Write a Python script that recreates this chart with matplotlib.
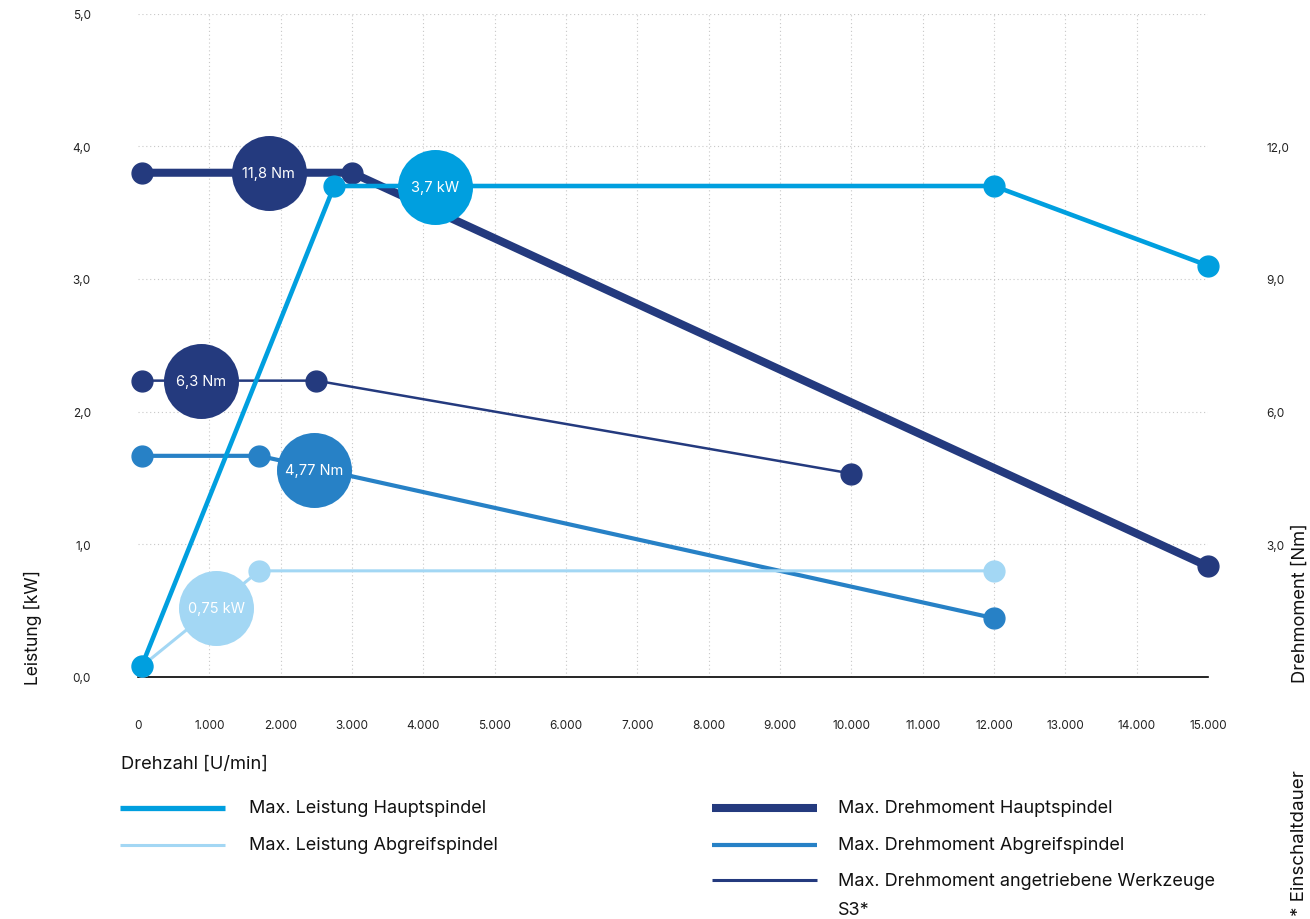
import matplotlib

matplotlib.use("Agg")
import matplotlib.pyplot as plt
from matplotlib.lines import Line2D
from matplotlib.ticker import FuncFormatter

plt.rcParams["font.family"] = ["Inter", "DejaVu Sans"]

# ---- data (speed in U/min, power in kW, torque in Nm) ----
speed_power_main = [50, 2750, 12000, 15000]
power_main = [0.08, 3.7, 3.7, 3.1]
speed_power_sub = [50, 1700, 12000]
power_sub = [0.08, 0.8, 0.8]

speed_torque_main = [50, 3000, 15000]
torque_main = [11.4, 11.4, 2.5]
speed_torque_sub = [50, 1700, 12000]
torque_sub = [5.0, 5.0, 1.33]
speed_torque_tools = [50, 2500, 10000]
torque_tools = [6.7, 6.7, 4.6]

# bubble labels sit on the curves
power_bubble_x = [4160, 1100]
power_bubble_y = [3.69, 0.52]
power_bubble_txt = ["3,7 kW", "0,75 kW"]
torque_bubble_x = [1830, 880, 2470]
torque_bubble_y = [11.4, 6.7, 4.68]
torque_bubble_txt = ["11,8 Nm", "6,3 Nm", "4,77 Nm"]

x_ticks = list(range(0, 15001, 1000))
power_ticks = [0, 1, 2, 3, 4, 5]
torque_ticks = [0, 3, 6, 9, 12, 15]

legend_labels = ["Max. Leistung Hauptspindel", "Max. Leistung Abgreifspindel",
                 "Max. Drehmoment Hauptspindel", "Max. Drehmoment Abgreifspindel",
                 "Max. Drehmoment angetriebene Werkzeuge\nS3*"]

BRIGHT = "#009fdf"
LIGHT = "#a3d7f4"
NAVY = "#243a7e"
MID = "#2781c6"
GRID = "#c8c8c8"
TXT = "#111111"

W, H = 1310, 920
fig = plt.figure(figsize=(W / 100, H / 100), dpi=100)
# torque on the lower axes, power twin on top (power curves are drawn over torque curves)
ax = fig.add_axes([138 / W, 1 - 678 / H, 1070 / W, 663.5 / H])
ax2 = ax.twinx()

ax.set_xlim(0, 15000)
ax.set_ylim(0, 15)
ax2.set_ylim(0, 5)

MS = 15
BUB = 54
ax.plot(speed_torque_main, torque_main, color=NAVY, lw=5.8, marker="o", ms=MS,
        clip_on=False, solid_capstyle="butt", zorder=3)
ax.plot(speed_torque_sub, torque_sub, color=MID, lw=3.0, marker="o", ms=MS,
        clip_on=False, zorder=3)
ax.plot(speed_torque_tools, torque_tools, color=NAVY, lw=1.8, marker="o", ms=MS,
        clip_on=False, zorder=3)
bub_cols = [NAVY, NAVY, MID]
for x, y, t, c in zip(torque_bubble_x, torque_bubble_y, torque_bubble_txt, bub_cols):
    ax.plot([x], [y], marker="o", ms=BUB, color=c, mec="none", zorder=5, clip_on=False)
    ax.text(x, y, t, color="white", ha="center", va="center", fontsize=10.5, zorder=6)

ax2.plot(speed_power_sub, power_sub, color=LIGHT, lw=2.2, marker="o", ms=MS,
         clip_on=False, zorder=3)
ax2.plot(speed_power_main, power_main, color=BRIGHT, lw=3.3, marker="o", ms=MS,
         clip_on=False, zorder=4)
for x, y, t, c in zip(power_bubble_x, power_bubble_y, power_bubble_txt, [BRIGHT, LIGHT]):
    ax2.plot([x], [y], marker="o", ms=BUB, color=c, mec="none", zorder=5, clip_on=False)
    ax2.text(x, y, t, color="white", ha="center", va="center", fontsize=10.5, zorder=6)

# ticks and labels
ax.set_xticks(x_ticks)
ax.xaxis.set_major_formatter(FuncFormatter(
    lambda v, p: "0" if v == 0 else f"{int(v):,}".replace(",", ".")))
ax.tick_params(axis="x", length=0, pad=30, labelsize=8.5, colors="#222222")

ax.yaxis.tick_right()
ax.set_yticks(torque_ticks)
ax.set_yticklabels(["" if v in (0, 15) else f"{v:.1f}".replace(".", ",") for v in torque_ticks])
ax.tick_params(axis="y", length=0, pad=42, labelsize=8.5, colors="#222222")

ax2.yaxis.tick_left()
ax2.set_yticks(power_ticks)
ax2.yaxis.set_major_formatter(FuncFormatter(lambda v, p: f"{v:.1f}".replace(".", ",")))
ax2.tick_params(axis="y", length=0, pad=34, labelsize=8.5, colors="#222222")

ax.grid(True, color=GRID, lw=0.8, linestyle=(0, (1, 2.5)))
ax.set_axisbelow(True)
xgl = ax.xaxis.get_gridlines()
xgl[0].set_visible(False)
xgl[-1].set_visible(False)

for a in (ax, ax2):
    for s in a.spines.values():
        s.set_visible(False)
ax.spines["bottom"].set_visible(True)
ax.spines["bottom"].set_linewidth(1.2)
ax.spines["bottom"].set_color("black")

# axis titles
fig.text(33 / W, 1 - 628 / H, "Leistung [kW]", rotation=90, ha="center", va="center",
         fontsize=12.6, color=TXT)
fig.text(1300 / W, 1 - 603 / H, "Drehmoment [Nm]", rotation=90, ha="center", va="center",
         fontsize=13.2, color=TXT)
fig.text(1300 / W, 1 - 843 / H, "* Einschaltdauer", rotation=90, ha="center", va="center",
         fontsize=13.5, color=TXT)
fig.text(121 / W, 1 - 764 / H, "Drehzahl [U/min]", ha="left", va="center",
         fontsize=13.2, color=TXT)

# legend drawn by hand (two columns)
leg_cols = [BRIGHT, LIGHT, NAVY, MID, NAVY]
leg_lw = [3.8, 2.2, 5.8, 3.0, 2.2]
leg_x = [(120, 225, 249), (120, 225, 249), (712, 817, 838), (712, 817, 838), (712, 817, 838)]
leg_line_y = [809, 846, 809, 846, 881]
leg_text_y = [809, 846, 809, 846, 896]
for lab, c, lw, (x0, x1, xt), yl, yt in zip(legend_labels, leg_cols, leg_lw, leg_x,
                                            leg_line_y, leg_text_y):
    fig.add_artist(Line2D([x0 / W, x1 / W], [1 - yl / H, 1 - yl / H], color=c, lw=lw,
                          solid_capstyle="butt", transform=fig.transFigure))
    fig.text(xt / W, 1 - yt / H, lab, ha="left", va="center", fontsize=13,
             color=TXT, linespacing=1.9)

fig.savefig("out.png", dpi=100)
